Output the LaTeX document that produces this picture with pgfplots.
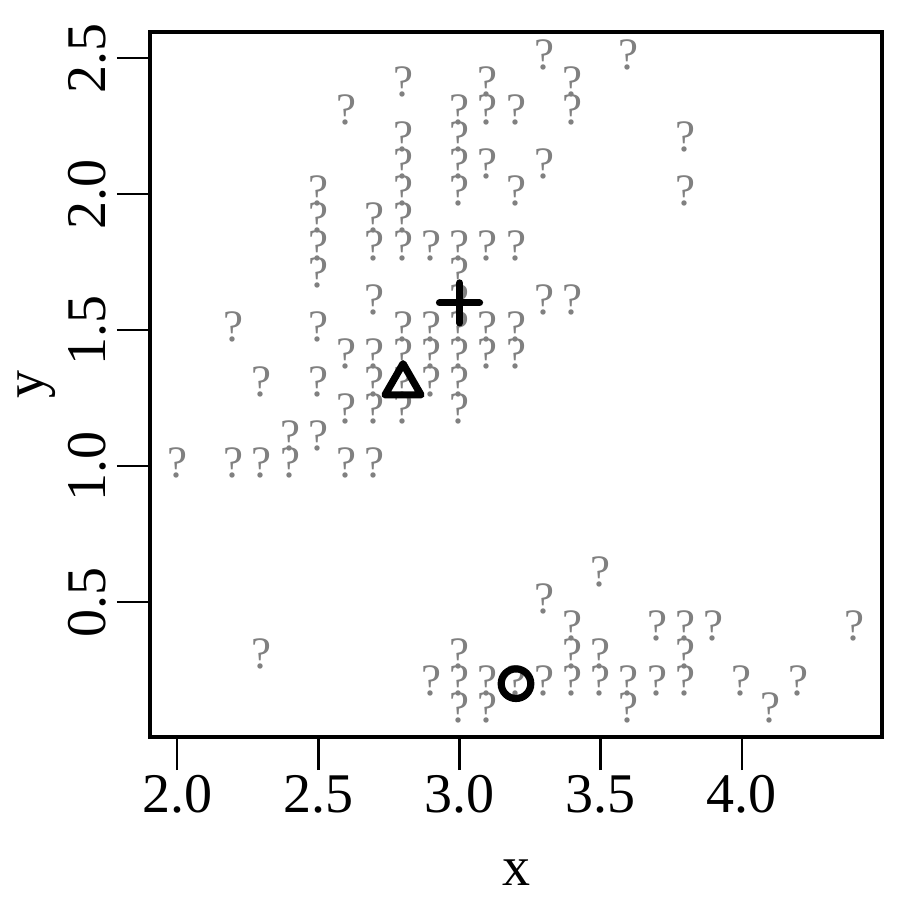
\documentclass[border=0pt]{standalone}
\usepackage{fontspec}
\setmainfont{Liberation Serif}
\usepackage{pgfplots}
\pgfplotsset{compat=1.18}
\definecolor{ptgray}{RGB}{128,128,128}
\pgfdeclareplotmark{rtri}{%
  \pgfpathmoveto{\pgfqpoint{0pt}{10.4pt}}%
  \pgfpathlineto{\pgfqpoint{9pt}{-5.2pt}}%
  \pgfpathlineto{\pgfqpoint{-9pt}{-5.2pt}}%
  \pgfpathclose
  \pgfusepathqstroke}
\pgfdeclareplotmark{rcirc}{%
  \pgfpathcircle{\pgfpointorigin}{7.4pt}%
  \pgfusepathqstroke}
\pgfdeclareplotmark{rplus}{%
  \pgfpathmoveto{\pgfqpoint{-10pt}{0pt}}\pgfpathlineto{\pgfqpoint{10pt}{0pt}}%
  \pgfpathmoveto{\pgfqpoint{0pt}{-10pt}}\pgfpathlineto{\pgfqpoint{0pt}{10pt}}%
  \pgfusepathqstroke}
\begin{document}
\begin{tikzpicture}
\useasboundingbox (-75pt,-81.5pt) rectangle (375pt,368.5pt);
\begin{axis}[
  at={(0pt,0pt)}, anchor=south west,
  scale only axis, width=366pt, height=352.5pt,
  xmin=1.904, xmax=4.496, ymin=0.004, ymax=2.596,
  axis line style={line width=1.6pt, black},
  tick pos=left, tick align=outside, major tick length=16.5pt,
  tick style={line width=1.3pt, black},
  xtick={2,2.5,3,3.5,4}, xticklabels={2.0,2.5,3.0,3.5,4.0},
  ytick={0.5,1,1.5,2,2.5}, yticklabels={0.5,1.0,1.5,2.0,2.5},
  tick label style={font=\fontsize{28}{28}\selectfont, inner sep=0pt},
  xticklabel style={anchor=north},
  yticklabel style={rotate=90, anchor=south},
  xticklabel shift=2.5pt, yticklabel shift=5pt,
  clip=false,
]
\addplot[only marks, mark=none, nodes near coords={?},
  every node near coord/.append style={anchor=center, inner sep=0pt, yshift=1.5pt,
    text=ptgray, font=\fontsize{22.5}{22.5}\selectfont}]
coordinates {
(2.0,1.0)
(2.2,1.0) (2.2,1.5)
(2.3,1.0) (2.3,1.3)
(2.4,1.0) (2.4,1.1)
(2.5,1.1) (2.5,1.3) (2.5,1.5) (2.5,1.7) (2.5,1.8) (2.5,1.9) (2.5,2.0)
(2.6,1.0) (2.6,1.2) (2.6,1.4) (2.6,2.3)
(2.7,1.0) (2.7,1.2) (2.7,1.3) (2.7,1.4) (2.7,1.6) (2.7,1.8) (2.7,1.9)
(2.8,1.2) (2.8,1.3) (2.8,1.4) (2.8,1.5) (2.8,1.8) (2.8,1.9) (2.8,2.0) (2.8,2.1) (2.8,2.2) (2.8,2.4)
(2.9,1.3) (2.9,1.4) (2.9,1.5) (2.9,1.8)
(3.0,1.2) (3.0,1.3) (3.0,1.4) (3.0,1.5) (3.0,1.6) (3.0,1.7) (3.0,1.8) (3.0,2.0) (3.0,2.1) (3.0,2.2) (3.0,2.3)
(3.1,1.4) (3.1,1.5) (3.1,1.8) (3.1,2.1) (3.1,2.3) (3.1,2.4)
(3.2,1.4) (3.2,1.5) (3.2,1.8) (3.2,2.0) (3.2,2.3)
(3.3,1.6) (3.3,2.1) (3.3,2.5)
(3.4,1.6) (3.4,2.3) (3.4,2.4)
(3.6,2.5)
(3.8,2.0) (3.8,2.2)
(2.3,0.3)
(2.9,0.2)
(3.0,0.1) (3.0,0.2) (3.0,0.3)
(3.1,0.1) (3.1,0.2)
(3.2,0.2)
(3.3,0.2) (3.3,0.5)
(3.4,0.2) (3.4,0.3) (3.4,0.4)
(3.5,0.2) (3.5,0.3) (3.5,0.6)
(3.6,0.1) (3.6,0.2)
(3.7,0.2) (3.7,0.4)
(3.8,0.2) (3.8,0.3) (3.8,0.4)
(3.9,0.4)
(4.0,0.2)
(4.1,0.1)
(4.2,0.2)
(4.4,0.4)
};
\addplot[only marks, mark=rcirc, mark options={line width=3.6pt, black}] coordinates {(3.2,0.2)};
\addplot[only marks, mark=rtri, mark options={line width=3.6pt, line join=round, black}] coordinates {(2.8,1.3)};
\addplot[only marks, mark=rplus, mark options={line width=3.6pt, line cap=round, black}] coordinates {(3.0,1.6)};
\node[anchor=base, inner sep=0pt, font=\fontsize{28}{28}\selectfont] at ([yshift=-74pt]axis description cs:0.5,0) {x};
\node[rotate=90, anchor=base, inner sep=0pt, font=\fontsize{28}{28}\selectfont] at ([xshift=-53pt]axis description cs:0,0.5) {y};
\end{axis}
\end{tikzpicture}
\end{document}
